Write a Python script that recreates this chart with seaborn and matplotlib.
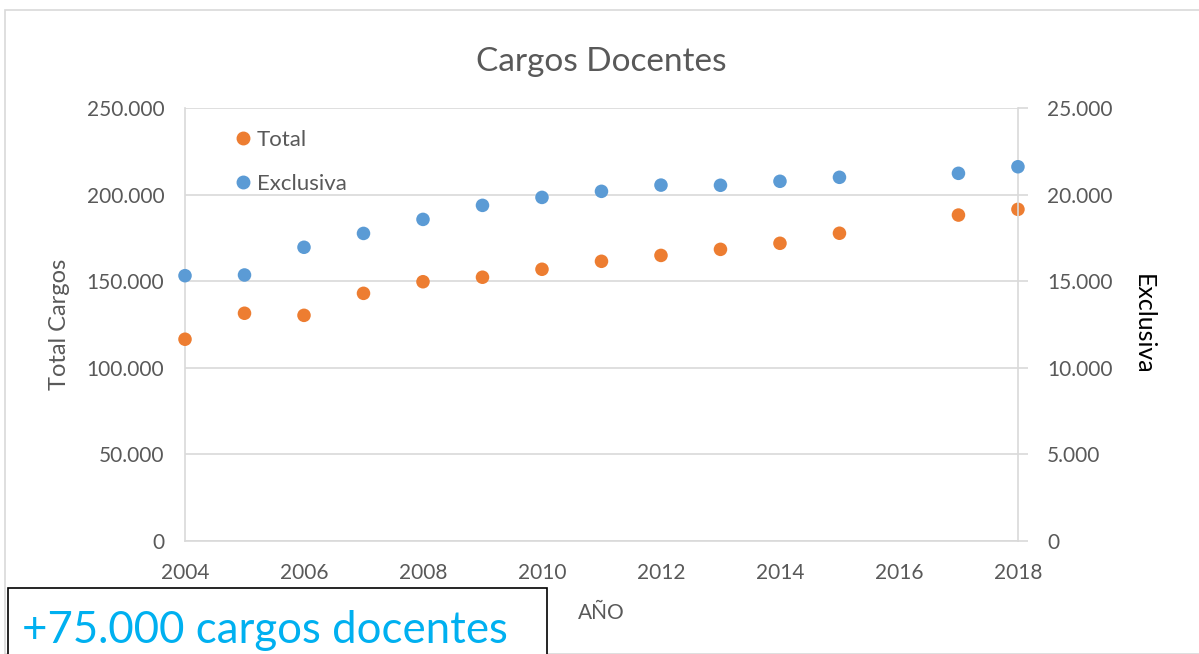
import matplotlib
matplotlib.use("Agg")
import matplotlib.pyplot as plt
import matplotlib.patches as mpatches
from matplotlib.ticker import FuncFormatter
from matplotlib.lines import Line2D
import pandas as pd
import seaborn as sns

# Values
years = [2004, 2005, 2006, 2007, 2008, 2009, 2010, 2011, 2012, 2013, 2014, 2015, 2017, 2018]
total = [116500, 131500, 130300, 143000, 149700, 152300, 156900, 161500, 164900, 168400,
         171900, 177700, 188200, 191500]
exclusiva = [15320, 15360, 16960, 17760, 18570, 19380, 19840, 20190, 20550, 20540,
             20770, 21000, 21230, 21610]

df = pd.DataFrame({"AÑO": years, "Total": total, "Exclusiva": exclusiva})

sns.set_style("white")
plt.rcParams["font.family"] = ["Lato", "DejaVu Sans"]

orange = "#ED7D31"
blue = "#5B9BD5"
grey = "#595959"
grid = "#D9D9D9"


def thousands(v, pos):
    return f"{int(round(v)):,}".replace(",", ".")


fig = plt.figure(figsize=(11.99, 6.54), dpi=100)

# outer chart frame
fig.patches.append(mpatches.Rectangle((5 / 1199, 0), 1.2, 1 - 10 / 654, transform=fig.transFigure,
                                      fill=False, edgecolor=grid, linewidth=1.2))

ax = fig.add_axes([0.1543, 0.1728, 0.6947, 0.662])
ax2 = ax.twinx()

sns.scatterplot(data=df, x="AÑO", y="Total", ax=ax, color=orange, s=95, edgecolor="none",
                zorder=3, clip_on=False)
sns.scatterplot(data=df, x="AÑO", y="Exclusiva", ax=ax2, color=blue, s=95, edgecolor="none",
                zorder=3, clip_on=False)

ax.set_xlim(2004, 2018)
ax.set_ylim(0, 250000)
ax2.set_ylim(0, 25000)
ax.set_xticks(range(2004, 2019, 2))
ax.set_yticks(range(0, 250001, 50000))
ax2.set_yticks(range(0, 25001, 5000))
ax.yaxis.set_major_formatter(FuncFormatter(thousands))
ax2.yaxis.set_major_formatter(FuncFormatter(thousands))

ax.grid(axis="y", color=grid, linewidth=1.2)
ax.set_axisbelow(True)
for a in (ax, ax2):
    for s in a.spines.values():
        s.set_visible(False)
for s in (ax.spines["left"], ax.spines["bottom"], ax2.spines["right"]):
    s.set_visible(True)
    s.set_color(grid)
    s.set_linewidth(1.2)

ax.tick_params(axis="y", colors=grey, labelsize=15, length=0, pad=15)
ax.tick_params(axis="x", colors=grey, labelsize=15, length=0, pad=16)
ax2.tick_params(axis="y", colors=grey, labelsize=15, length=7, width=1.2, pad=14)
ax2.tick_params(axis="y", color=grid)

ax.set_xlabel("AÑO", color=grey, fontsize=15, labelpad=14)
ax.set_ylabel("Total Cargos", color=grey, fontsize=17, labelpad=12)
ax2.set_ylabel("Exclusiva", color="black", fontsize=18, rotation=-90, labelpad=30)

ax.set_title("Cargos Docentes", color=grey, fontsize=24, pad=27)

handles = [Line2D([], [], marker="o", linestyle="none", color=orange, markersize=9),
           Line2D([], [], marker="o", linestyle="none", color=blue, markersize=9)]
leg = ax.legend(handles, ["Total", "Exclusiva"], loc="upper left", bbox_to_anchor=(0.03, 0.995),
                frameon=False, fontsize=16, handletextpad=0.0, labelspacing=1.05, handlelength=1.2)
for t in leg.get_texts():
    t.set_color(grey)

# annotation box at bottom left
fig.patches.append(mpatches.Rectangle((8 / 1199, -0.05), 539 / 1199, (654 - 588) / 654 + 0.05,
                                      transform=fig.transFigure, facecolor="white",
                                      edgecolor="black", linewidth=1.2, zorder=5))
fig.text(22 / 1199, 0.036, "+75.000 cargos docentes", color="#00B0F0", fontsize=31.5,
         ha="left", va="center", zorder=6)

fig.savefig("out.png", dpi=100)
